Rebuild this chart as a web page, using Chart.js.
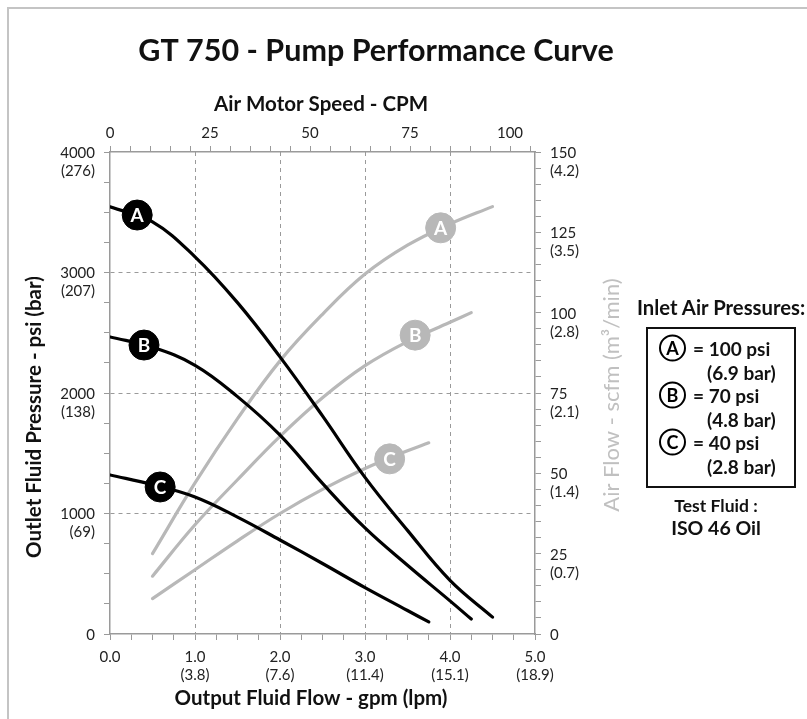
<!DOCTYPE html>
<html>
<head>
<meta charset="utf-8">
<script src="https://cdn.jsdelivr.net/npm/chart.js@4.4.1/dist/chart.umd.min.js"></script>
<style>
  body { margin: 0; background: #fff; font-family: Lato, sans-serif; }
  #wrap { position: relative; width: 807px; height: 719px; overflow: hidden; }
  #frame { position: absolute; left: 7px; top: 7px; width: 830px; height: 740px;
           border-left: 2px solid #c4c4c4; border-top: 2px solid #c4c4c4; }
  canvas { position: absolute; left: 0; top: 0; }
  .t { position: absolute; font-weight: bold; color: #111; white-space: nowrap; transform: translateY(-50%); }
  .c { position: absolute; width: 27px; height: 27px; border: 2.5px solid #000; border-radius: 50%;
       box-sizing: border-box; font-weight: bold; font-size: 18px; text-align: center; line-height: 22px;
       transform: translateY(-50%); }
  #box { position: absolute; left: 646px; top: 327px; width: 150px; height: 161px;
         border: 2px solid #111; box-sizing: border-box; }
</style>
</head>
<body>
<div id="wrap">
  <div id="frame"></div>
  <canvas id="pumpChart" width="807" height="719"></canvas>
  <div class="t" style="left:637px;top:307px;font-size:20.3px">Inlet Air Pressures:</div>
  <div id="box"></div>
  <div id="rows"></div>
  <div class="t" style="left:716px;top:505px;font-size:17.5px;transform:translate(-50%,-50%)">Test Fluid :</div>
  <div class="t" style="left:716px;top:527px;font-size:19.5px;transform:translate(-50%,-50%)">ISO 46 Oil</div>
</div>
<script>
// axis ticks (main value + metric value in brackets)
const flowTicks = [0, 1, 2, 3, 4, 5];
const flowLabels = ['0.0', '1.0', '2.0', '3.0', '4.0', '5.0'];
const flowLpm = ['', '(3.8)', '(7.6)', '(11.4)', '(15.1)', '(18.9)'];
const psiTicks = [0, 1000, 2000, 3000, 4000];
const psiBar = ['', '(69)', '(138)', '(207)', '(276)'];
const scfmTicks = [0, 25, 50, 75, 100, 125, 150];
const scfmM3 = ['', '(0.7)', '(1.4)', '(2.1)', '(2.8)', '(3.5)', '(4.2)'];
const cpmTicks = [0, 25, 50, 75, 100];

// outlet pressure curves (psi vs gpm)
const pressA_gpm = [0, 0.5, 1, 1.5, 2, 2.5, 3, 3.5, 4, 4.5];
const pressA_psi = [3545, 3420, 3130, 2750, 2300, 1810, 1300, 860, 445, 140];
const pressB_gpm = [0, 0.5, 1, 1.5, 2, 2.5, 3, 3.5, 4, 4.25];
const pressB_psi = [2465, 2380, 2230, 1970, 1650, 1250, 880, 570, 275, 124];
const pressC_gpm = [0, 0.5, 1, 1.5, 2, 2.5, 3, 3.5, 3.75];
const pressC_psi = [1320, 1240, 1137, 970, 780, 585, 385, 195, 100];

// air flow curves (scfm vs gpm)
const airA_gpm = [0.5, 1, 1.5, 2, 2.5, 3, 3.5, 4, 4.5];
const airA_scfm = [25, 47, 67, 85, 99.5, 112, 121, 127.6, 133];
const airB_gpm = [0.5, 1, 1.5, 2, 2.5, 3, 3.5, 4, 4.25];
const airB_scfm = [18, 34, 48, 61.5, 73.5, 83.5, 91, 97, 100];
const airC_gpm = [0.5, 1, 1.5, 2, 2.5, 3, 3.5, 3.75];
const airC_scfm = [11, 20, 29, 37.5, 45, 51.5, 57, 59.5];

// curve labels
const curveLetters = ['A', 'B', 'C'];
const pressMark_gpm = [0.32, 0.40, 0.59];
const pressMark_psi = [3477, 2398, 1220];
const airMark_gpm = [3.89, 3.59, 3.29];
const airMark_scfm = [126.4, 93, 54.5];

// legend panel
const inletPsi = ['= 100 psi', '= 70 psi', '= 40 psi'];
const inletBar = ['(6.9 bar)', '(4.8 bar)', '(2.8 bar)'];

const FONT = 'Lato, sans-serif';
const AXIS = '#9a9a9a';
const GRID = '#9a9a9a';
const AIR = '#b8b8b8';

function pts(xs, ys) {
  return xs.map((x, i) => ({ x: x, y: ys[i] }));
}

function curve(xs, ys, color, yAxis) {
  return {
    data: pts(xs, ys), borderColor: color, borderWidth: 3.2, pointRadius: 0,
    tension: 0.4, fill: false, borderCapStyle: 'round', xAxisID: 'x', yAxisID: yAxis
  };
}

function marks(xs, ys, color, yAxis) {
  return {
    data: pts(xs, ys), showLine: false, pointRadius: 15, pointHoverRadius: 15,
    pointBackgroundColor: color, pointBorderColor: color, letters: curveLetters,
    xAxisID: 'x', yAxisID: yAxis
  };
}

function tickLabel(list, sub) {
  return function (v) {
    const i = list.indexOf(v);
    if (i < 0) return '';
    return [String(v), sub[i]];
  };
}

// gridline only on inner major ticks
function innerGrid(list) {
  return function (c) {
    const i = list.indexOf(c.tick.value);
    return (i > 0 && i < list.length - 1) ? GRID : 'rgba(0,0,0,0)';
  };
}

const letterPlugin = {
  id: 'letters',
  afterDatasetsDraw(chart) {
    const c = chart.ctx;
    chart.data.datasets.forEach((ds, i) => {
      if (!ds.letters) return;
      chart.getDatasetMeta(i).data.forEach((p, j) => {
        c.save();
        c.fillStyle = '#fff';
        c.font = 'bold 19px ' + FONT;
        c.textAlign = 'center';
        c.textBaseline = 'middle';
        c.fillText(ds.letters[j], p.x, p.y + 1);
        c.restore();
      });
    });
  }
};

const textPlugin = {
  id: 'texts',
  afterDraw(chart) {
    const c = chart.ctx;
    c.save();
    c.textAlign = 'center';
    c.textBaseline = 'middle';
    c.fillStyle = '#111';
    c.font = 'bold 30.5px ' + FONT;
    c.fillText('GT 750 - Pump Performance Curve', 376, 51);
    c.font = 'bold 20.5px ' + FONT;
    c.fillText('Air Motor Speed - CPM', 321, 104);
    c.fillText('Output Fluid Flow - gpm (lpm)', 311, 698);
    c.save();
    c.translate(34, 417);
    c.rotate(-Math.PI / 2);
    c.fillText('Outlet Fluid Pressure - psi (bar)', 0, 0);
    c.restore();
    c.save();
    c.translate(612, 395);
    c.rotate(-Math.PI / 2);
    c.fillStyle = '#c0c0c0';
    c.font = '22px ' + FONT;
    c.fillText('Air Flow - scfm (m\u00b3/min)', 0, 0);
    c.restore();
    c.restore();
  }
};

const tickFont = { family: FONT, size: 15 };

new Chart(document.getElementById('pumpChart'), {
  type: 'line',
  data: {
    datasets: [
      marks(pressMark_gpm, pressMark_psi, '#000', 'y'),
      marks(airMark_gpm, airMark_scfm, AIR, 'y2'),
      curve(pressA_gpm, pressA_psi, '#000', 'y'),
      curve(pressB_gpm, pressB_psi, '#000', 'y'),
      curve(pressC_gpm, pressC_psi, '#000', 'y'),
      curve(airA_gpm, airA_scfm, AIR, 'y2'),
      curve(airB_gpm, airB_scfm, AIR, 'y2'),
      curve(airC_gpm, airC_scfm, AIR, 'y2')
    ]
  },
  options: {
    responsive: false,
    animation: false,
    layout: { padding: { left: 10, right: 200, top: 80, bottom: 5 } },
    plugins: { legend: { display: false }, tooltip: { enabled: false } },
    scales: {
      x: {
        type: 'linear', position: 'bottom', min: 0, max: 5,
        afterFit: s => { s.height = 80; },
        ticks: {
          stepSize: 0.25, autoSkip: false, maxRotation: 0, padding: 8, color: '#222', font: tickFont,
          callback: v => {
            const i = flowTicks.indexOf(v);
            if (i < 0) return '';
            return flowLpm[i] ? [flowLabels[i], flowLpm[i]] : flowLabels[i];
          }
        },
        grid: { color: innerGrid(flowTicks), tickColor: AXIS, tickLength: 6, lineWidth: 1 },
        border: { color: AXIS, width: 1.5, dash: [4, 4] }
      },
      x2: {
        type: 'linear', position: 'top', min: 0, max: 106.25, bounds: 'data', display: true,
        afterFit: s => { s.height = 72; },
        ticks: {
          stepSize: 5, includeBounds: false, autoSkip: false, maxRotation: 0, padding: 4, color: '#222', font: tickFont,
          callback: v => cpmTicks.includes(v) ? String(v) : ''
        },
        grid: { drawOnChartArea: false, tickColor: AXIS, tickLength: 6 },
        border: { color: AXIS, width: 1.5 }
      },
      y: {
        type: 'linear', position: 'left', min: 0, max: 4000,
        afterFit: s => { s.width = 100; },
        ticks: {
          stepSize: 250, autoSkip: false, padding: 9, labelOffset: 10, color: '#222', font: tickFont,
          callback: tickLabel(psiTicks, psiBar)
        },
        grid: { color: innerGrid(psiTicks), tickColor: AXIS, tickLength: 6, lineWidth: 1 },
        border: { color: AXIS, width: 1.5, dash: [4, 4] }
      },
      y2: {
        type: 'linear', position: 'right', min: 0, max: 150, display: true,
        afterFit: s => { s.width = 72; },
        ticks: {
          stepSize: 5, autoSkip: false, padding: 9, labelOffset: 10, color: '#222', font: tickFont,
          callback: tickLabel(scfmTicks, scfmM3)
        },
        grid: { drawOnChartArea: false, tickColor: AXIS, tickLength: 6 },
        border: { color: AXIS, width: 1.5 }
      }
    }
  },
  plugins: [letterPlugin, textPlugin]
});

// legend rows
const rows = document.getElementById('rows');
curveLetters.forEach((L, i) => {
  const cy = 348 + i * 47;
  rows.insertAdjacentHTML('beforeend',
    '<div class="c" style="left:659px;top:' + cy + 'px">' + L + '</div>' +
    '<div class="t" style="left:693px;top:' + cy + 'px;font-size:19px">' + inletPsi[i] + '</div>' +
    '<div class="t" style="left:707px;top:' + (cy + 24) + 'px;font-size:19px">' + inletBar[i] + '</div>');
});
</script>
</body>
</html>
